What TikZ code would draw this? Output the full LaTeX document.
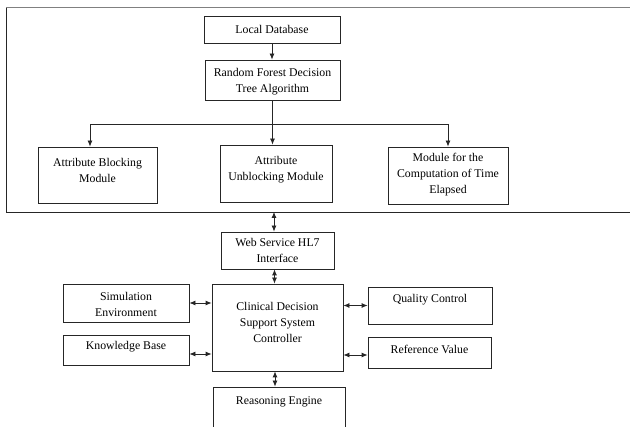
\documentclass[tikz,border=0pt]{standalone}
\usepackage{fontspec}
\setmainfont{Liberation Serif}
\usetikzlibrary{arrows.meta}

\tikzset{
  blk/.style={draw=black!85, line width=0.8pt, inner sep=0pt},
  txt/.style={font=\fontsize{11.8}{16}\selectfont, align=center, inner sep=0pt, text=black},
  arr/.style={-{Latex[length=6pt,width=5pt]}, line width=0.8pt, draw=black!85},
  darr/.style={{Latex[length=6pt,width=5pt]}-{Latex[length=6pt,width=5pt]}, line width=0.8pt, draw=black!85},
}

\begin{document}
\begin{tikzpicture}[x=1pt, y=-1pt]
  \clip (0,0) rectangle (630,427);
  \fill[white] (0,0) rectangle (630,427);

  % enclosing frame of the decision tree part
  \draw[black!50, line width=1pt] (6,8) -- (640,8);
  \draw[black!85, line width=0.8pt] (6,8) -- (6,212) -- (640,212);

  % upper blocks
  \node[blk, minimum width=136pt, minimum height=27pt,
        label={[txt]center:Local Database}] (ldb) at (272,29.5) {};
  \node[blk, minimum width=135pt, minimum height=40pt,
        label={[txt, yshift=-1.5pt]center:{Random Forest Decision\\Tree Algorithm}}] (rf) at (272.5,80) {};
  \node[blk, minimum width=119pt, minimum height=56pt,
        label={[txt, yshift=5pt]center:{Attribute Blocking\\Module}}] (ab) at (97.5,175) {};
  \node[blk, minimum width=112pt, minimum height=57pt,
        label={[txt, yshift=4pt]center:{Attribute\\Unblocking Module}}] (au) at (276,173.5) {};
  \node[blk, minimum width=120pt, minimum height=57pt,
        label={[txt, yshift=0.5pt]center:{Module for the\\Computation of Time\\Elapsed}}] (mod) at (448,175.5) {};

  % lower blocks
  \node[blk, minimum width=113pt, minimum height=37pt,
        label={[txt]center:{Web Service HL7\\Interface}}] (web) at (277.5,250.5) {};
  \node[blk, minimum width=131pt, minimum height=87pt,
        label={[txt, yshift=5.5pt]center:{Clinical Decision\\Support System\\Controller}}] (cdss) at (277.5,327.5) {};
  \node[blk, minimum width=126pt, minimum height=38pt,
        label={[txt, yshift=-1.5pt]center:{Simulation\\Environment}}] (sim) at (126,303) {};
  \node[blk, minimum width=126pt, minimum height=30pt,
        label={[txt, yshift=3pt]center:Knowledge Base}] (kb) at (126,350) {};
  \node[blk, minimum width=124pt, minimum height=37pt,
        label={[txt, yshift=5.5pt]center:Quality Control}] (qc) at (430,305.5) {};
  \node[blk, minimum width=123pt, minimum height=31pt,
        label={[txt, yshift=3.5pt]center:Reference Value}] (rv) at (429.5,352.5) {};
  \node[blk, minimum width=132pt, minimum height=60pt,
        label={[txt, yshift=15pt]center:Reasoning Engine}] (re) at (279,417) {};

  % tree connectors
  \draw[arr] (ldb.south) -- (ldb.south |- rf.north);
  \coordinate (split) at (272.5,124);
  \draw[arr] (rf.south) -- (rf.south |- au.north);
  \draw[arr] (split) -| ([xshift=-7.5pt]ab.north);
  \draw[arr] (split) -| (mod.north);

  % two-way links
  \coordinate (fb) at (274,212);
  \draw[darr] (fb) -- (fb |- web.north);
  \draw[darr] ([xshift=-3pt]web.south) -- ([xshift=-3pt]web.south |- cdss.north);
  \draw[darr] ([xshift=-2.5pt]cdss.south) -- ([xshift=-2.5pt]cdss.south |- re.north);
  \draw[darr] (sim.east) -- (sim.east -| cdss.west);
  \draw[darr] ([yshift=-4pt]kb.east) -- ([yshift=-4pt]kb.east -| cdss.west);
  \draw[darr] (qc.west -| cdss.east) -- (qc.west);
  \draw[darr] ([yshift=-2.5pt]rv.west -| cdss.east) -- ([yshift=-2.5pt]rv.west);
\end{tikzpicture}
\end{document}
